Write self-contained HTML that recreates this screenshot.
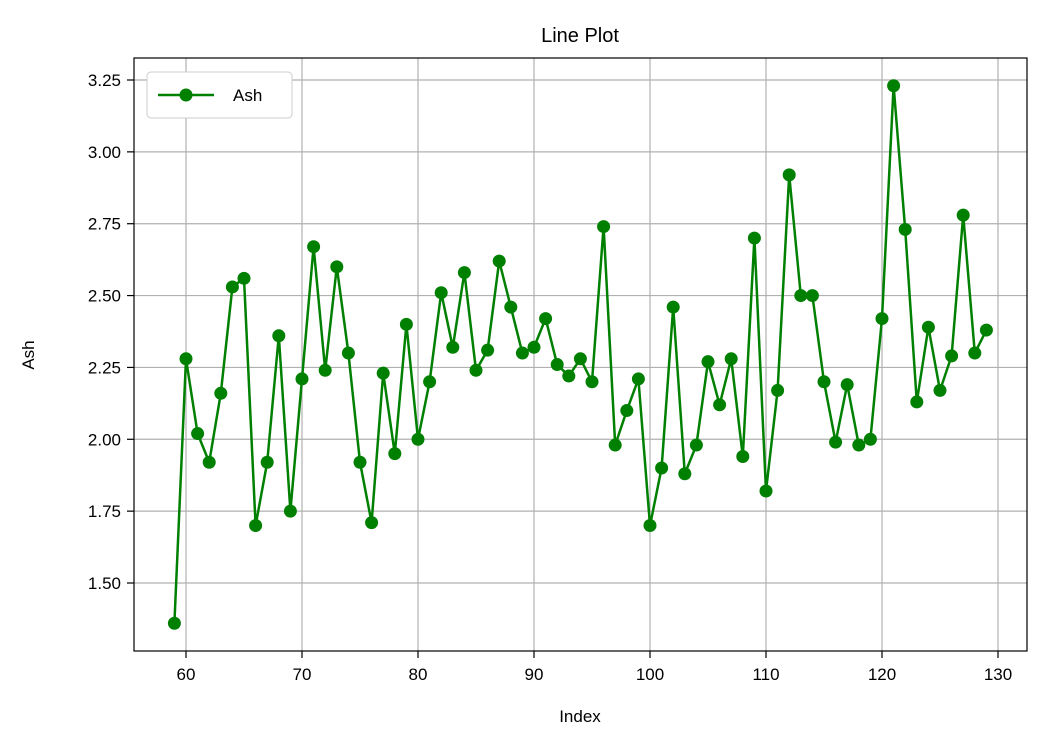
<!DOCTYPE html>
<html><head><meta charset="utf-8"><style>
body{margin:0;background:#fff;}
svg text{font-family:"Liberation Sans","DejaVu Sans",sans-serif;fill:#000;}
</style></head><body>
<svg id="chart" width="1046" height="751">
<rect x="0" y="0" width="1046" height="751" fill="#fff"/>
<g id="grid"></g>
<g id="series"></g>
<rect x="134" y="58" width="893" height="593" fill="none" stroke="#000" stroke-width="1.2"/>
<g id="ticks"></g>
<text x="580" y="42" text-anchor="middle" font-size="20">Line Plot</text>
<text x="580" y="722" text-anchor="middle" font-size="17">Index</text>
<text x="34" y="355" text-anchor="middle" font-size="17" transform="rotate(-90 34 355)">Ash</text>
<g>
<rect x="147" y="72" width="145" height="46" fill="#fff" stroke="#ccc" rx="4"/>
<line x1="158" y1="95" x2="214" y2="95" stroke="#008000" stroke-width="2.5"/>
<circle cx="186" cy="95" r="6.5" fill="#008000"/>
<text x="233" y="101" font-size="17">Ash</text>
</g>
</svg>
<script>
const startIndex = 59;
const ashValues = [1.36,2.28,2.02,1.92,2.16,2.53,2.56,1.70,1.92,2.36,1.75,2.21,2.67,2.24,2.60,2.30,1.92,1.71,2.23,1.95,2.40,2.00,2.20,2.51,2.32,2.58,2.24,2.31,2.62,2.46,2.30,2.32,2.42,2.26,2.22,2.28,2.20,2.74,1.98,2.10,2.21,1.70,1.90,2.46,1.88,1.98,2.27,2.12,2.28,1.94,2.70,1.82,2.17,2.92,2.50,2.50,2.20,1.99,2.19,1.98,2.00,2.42,3.23,2.73,2.13,2.39,2.17,2.29,2.78,2.30,2.38];
const xTicks = [60,70,80,90,100,110,120,130];
const yTicks = [1.50,1.75,2.00,2.25,2.50,2.75,3.00,3.25];
const NS="http://www.w3.org/2000/svg";
function xs(v){return 186+(v-60)*(812/70);}
function ys(v){return 583-(v-1.5)*(503/1.75);}
function mk(tag,attrs,parent){const e=document.createElementNS(NS,tag);for(const k in attrs)e.setAttribute(k,attrs[k]);parent.appendChild(e);return e;}
const grid=document.getElementById('grid'),ticks=document.getElementById('ticks'),series=document.getElementById('series');
xTicks.forEach(t=>{const x=xs(t);
 const g=mk('line',{x1:x,x2:x,y1:58,y2:651,stroke:'#b0b0b0','stroke-width':1.2},grid);
 
 
 mk('line',{x1:x,x2:x,y1:651,y2:658,stroke:'#000','stroke-width':1.2},ticks);
 const l=mk('text',{x:x,y:680,'text-anchor':'middle','font-size':17},ticks);l.textContent=t;
 
 
});
yTicks.forEach(t=>{const y=ys(t);
 const g=mk('line',{x1:134,x2:1027,y1:y,y2:y,stroke:'#b0b0b0','stroke-width':1.2},grid);
 
 
 mk('line',{x1:127,x2:134,y1:y,y2:y,stroke:'#000','stroke-width':1.2},ticks);
 const l=mk('text',{x:121,y:y+6,'text-anchor':'end','font-size':17},ticks);l.textContent=t.toFixed(2);
 
 
});
const pts=ashValues.map((v,i)=>xs(startIndex+i)+','+ys(v)).join(' ');
const pl=mk('polyline',{points:pts,fill:'none',stroke:'#008000','stroke-width':2.5},series);


ashValues.forEach((v,i)=>{
 const c=mk('circle',{cx:xs(startIndex+i),cy:ys(v),r:6.5,fill:'#008000'},series);
 
 
});
</script>
</body></html>
